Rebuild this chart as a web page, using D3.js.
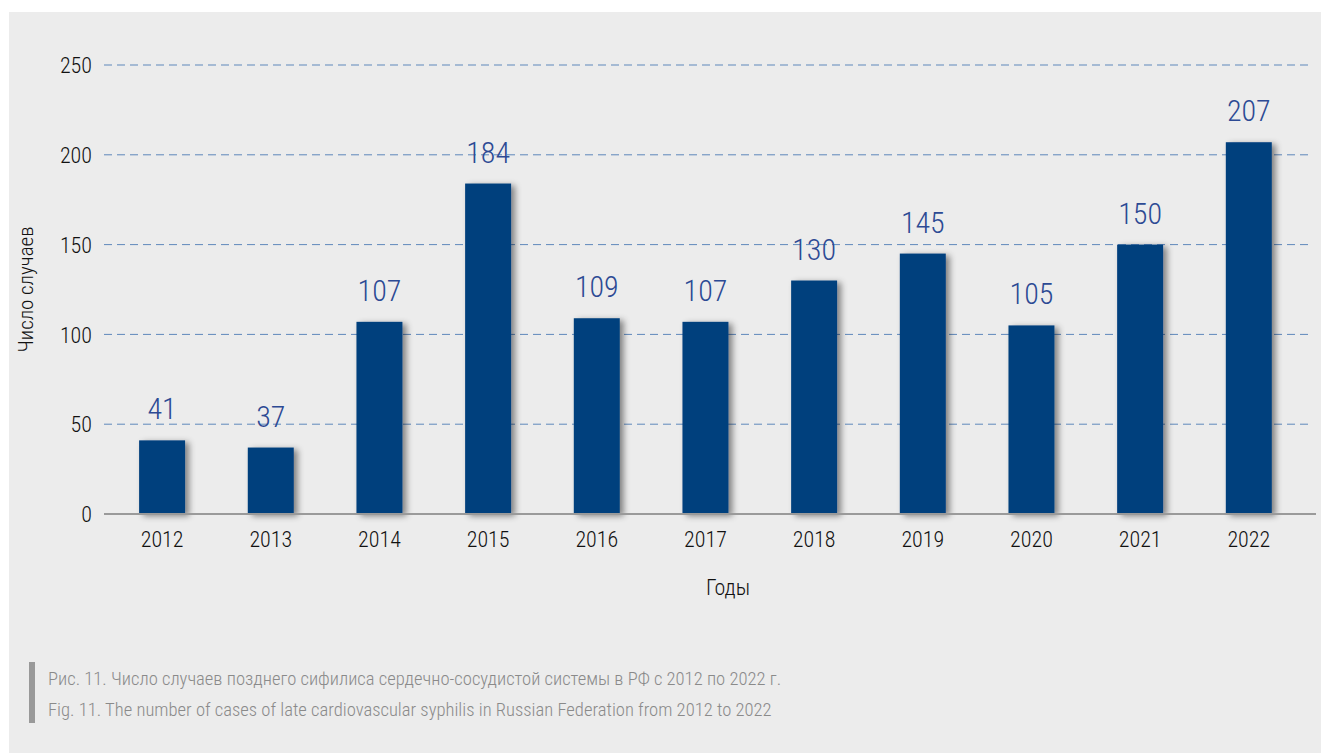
<!DOCTYPE html>
<html>
<head>
<meta charset="utf-8">
<script src="https://cdn.jsdelivr.net/npm/d3@7"></script>
<style>
  html, body { margin: 0; padding: 0; background: #ffffff; }
  svg { display: block; }
  text { font-family: "Roboto Condensed", "Liberation Sans Narrow", "Arial Narrow", "Liberation Sans", sans-serif; font-weight: 300; }
</style>
</head>
<body>
<svg id="chart" width="1321" height="753"></svg>
<script>
// Late cardiovascular syphilis cases, Russian Federation
const years = ["2012", "2013", "2014", "2015", "2016", "2017", "2018", "2019", "2020", "2021", "2022"];
const cases = [41, 37, 107, 184, 109, 107, 130, 145, 105, 150, 207];
const yTicks = [0, 50, 100, 150, 200, 250];
const yTitle = "Число случаев";
const xTitle = "Годы";
const captionRu = "Рис. 11. Число случаев позднего сифилиса сердечно-сосудистой системы в РФ с 2012 по 2022 г.";
const captionEn = "Fig. 11. The number of cases of late cardiovascular syphilis in Russian Federation from 2012 to 2022";

const svg = d3.select("#chart");
const W = 1321, H = 753;
const FONT = "'Roboto Condensed', 'Liberation Sans Narrow', 'Arial Narrow', sans-serif";

// panel background
svg.append("rect").attr("x", 9).attr("y", 12).attr("width", W - 9).attr("height", H - 12).attr("fill", "#ececec");

const defs = svg.append("defs");
const f = defs.append("filter").attr("id", "barShadow")
  .attr("x", "-20%").attr("y", "-20%").attr("width", "160%").attr("height", "140%");
f.append("feDropShadow").attr("dx", 4).attr("dy", 2).attr("stdDeviation", 3)
  .attr("flood-color", "#000").attr("flood-opacity", 0.45);

const plot = { left: 104, right: 1316, top: 65, bottom: 514 };

const x = d3.scaleBand().domain(years).range([107.6, 1303.3]).paddingInner(0.577).paddingOuter(0.29);
const y = d3.scaleLinear().domain([0, 250]).range([plot.bottom, plot.top]);

// dashed gridlines
svg.append("g").selectAll("line").data(yTicks.filter(d => d > 0)).join("line")
  .attr("x1", plot.left).attr("x2", 1310)
  .attr("y1", d => y(d)).attr("y2", d => y(d))
  .attr("stroke", "#5f88bb").attr("stroke-width", 1)
  .attr("stroke-dasharray", "8,5");

// y tick labels
const yAxis = d3.axisLeft(y).tickValues(yTicks).tickSize(0).tickPadding(0);
const gy = svg.append("g").attr("transform", `translate(92,0)`).call(yAxis);
gy.select(".domain").remove();
gy.selectAll("text").attr("font-size", 22).attr("fill", "#111").attr("dy", "0.35em")
  .style("font-family", FONT).style("font-weight", 300);

// bars
svg.append("g").selectAll("rect").data(years).join("rect")
  .attr("x", d => x(d)).attr("width", x.bandwidth())
  .attr("y", (d, i) => y(cases[i])).attr("height", (d, i) => y(0) - y(cases[i]))
  .attr("fill", "#063f7d").attr("filter", "url(#barShadow)");

// baseline
svg.append("line").attr("x1", plot.left).attr("x2", plot.right)
  .attr("y1", y(0)).attr("y2", y(0)).attr("stroke", "#9a9a9a").attr("stroke-width", 2);

// x axis labels
const xAxis = d3.axisBottom(x).tickSize(0).tickPadding(0);
const gx = svg.append("g").attr("transform", `translate(0,${y(0)})`).call(xAxis);
gx.select(".domain").remove();
gx.selectAll("text").attr("font-size", 22).attr("fill", "#111").attr("dy", 0).attr("y", 33)
  .style("font-family", FONT).style("font-weight", 300);

// value labels
svg.append("g").selectAll("text").data(years).join("text")
  .attr("x", d => x(d) + x.bandwidth() / 2)
  .attr("y", (d, i) => y(cases[i]) - 21)
  .attr("text-anchor", "middle").attr("font-size", 30).attr("fill", "#2c4a94")
  .text((d, i) => cases[i]);

// axis titles
svg.append("text").attr("x", 728).attr("y", 595).attr("text-anchor", "middle")
  .attr("font-size", 22).attr("fill", "#111").text(xTitle);
svg.append("text").attr("transform", `translate(33,${(plot.top + plot.bottom) / 2}) rotate(-90)`)
  .attr("text-anchor", "middle").attr("font-size", 21).attr("fill", "#111").text(yTitle);

// caption
svg.append("rect").attr("x", 29).attr("y", 662).attr("width", 6).attr("height", 61).attr("fill", "#999");
svg.append("text").attr("x", 48).attr("y", 685).attr("font-size", 18.6).attr("fill", "#8a8a8a").text(captionRu);
svg.append("text").attr("x", 48).attr("y", 716).attr("font-size", 18.6).attr("fill", "#8a8a8a").text(captionEn);
</script>
</body>
</html>
